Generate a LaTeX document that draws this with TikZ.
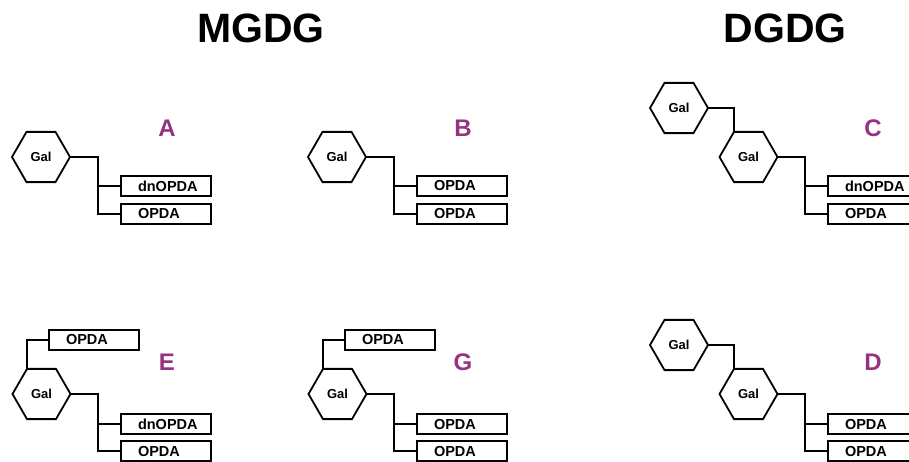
\documentclass[tikz,border=0pt]{standalone}
\usepackage{fontspec}
\setmainfont{Liberation Sans}
\usetikzlibrary{shapes.geometric}
\definecolor{lbl}{RGB}{150,50,130}
\begin{document}
\begin{tikzpicture}[x=1pt,y=-1pt,
  hexa/.style={regular polygon, regular polygon sides=6, draw, line width=1.8pt,
    minimum size=58pt, inner sep=0pt, outer sep=0pt, font=\bfseries\fontsize{13}{15}\selectfont},
  chainbox/.style={draw, line width=1.8pt, minimum width=90pt, minimum height=20pt,
    inner xsep=17pt, inner ysep=0pt, text width=56pt, align=left, outer sep=0pt,
    font=\bfseries\fontsize{14.5}{16}\selectfont},
  link/.style={line width=1.8pt},
  panel/.style={text=lbl, font=\bfseries\fontsize{24}{28}\selectfont},
  title/.style={font=\bfseries\fontsize{41}{48}\selectfont}]
\clip (0,0) rectangle (909,461);
\node[title] (t1) at (261,28) {MGDG};
\node[title] (t2) at (785,28) {DGDG};

% Panel A
\node[hexa] (ga) at (41,157) {Gal};
\node[chainbox] (a1) at (166,186) {dnOPDA};
\node[chainbox] (a2) at (166,214) {OPDA};
\coordinate (ta) at (98,157);
\draw[link] (ga.0) -- (ta) |- (a2.west);
\draw[link] (ta |- a1.west) -- (a1.west);
\node[panel] (la) at (167,128) {A};

% Panel B
\node[hexa] (gb) at (337,157) {Gal};
\node[chainbox] (b1) at (462,186) {OPDA};
\node[chainbox] (b2) at (462,214) {OPDA};
\coordinate (tb) at (394,157);
\draw[link] (gb.0) -- (tb) |- (b2.west);
\draw[link] (tb |- b1.west) -- (b1.west);
\node[panel] (lb) at (463,128) {B};

% Panel C
\node[hexa] (gc1) at (679,108) {Gal};
\node[hexa] (gc2) at (748.5,157) {Gal};
\node[chainbox] (c1) at (873,186) {dnOPDA};
\node[chainbox] (c2) at (873,214) {OPDA};
\coordinate (tc) at (805,157);
\draw[link] (gc1.0) -| (gc2.120);
\draw[link] (gc2.0) -- (tc) |- (c2.west);
\draw[link] (tc |- c1.west) -- (c1.west);
\node[panel] (lc) at (873,128) {C};

% Panel E
\node[hexa] (ge) at (41.5,394) {Gal};
\node[chainbox] (e0) at (94,340) {OPDA};
\node[chainbox] (e1) at (166,424) {dnOPDA};
\node[chainbox] (e2) at (166,451) {OPDA};
\coordinate (te) at (98,394);
\draw[link] (e0.west) -| (ge.120);
\draw[link] (ge.0) -- (te) |- (e2.west);
\draw[link] (te |- e1.west) -- (e1.west);
\node[panel] (le) at (167,362) {E};

% Panel G
\node[hexa] (gg) at (337.5,394) {Gal};
\node[chainbox] (g0) at (390,340) {OPDA};
\node[chainbox] (g1) at (462,424) {OPDA};
\node[chainbox] (g2) at (462,451) {OPDA};
\coordinate (tg) at (394,394);
\draw[link] (g0.west) -| (gg.120);
\draw[link] (gg.0) -- (tg) |- (g2.west);
\draw[link] (tg |- g1.west) -- (g1.west);
\node[panel] (lg) at (463,362) {G};

% Panel D
\node[hexa] (gd1) at (679,345) {Gal};
\node[hexa] (gd2) at (748.5,394) {Gal};
\node[chainbox] (d1) at (873,424) {OPDA};
\node[chainbox] (d2) at (873,451) {OPDA};
\coordinate (td) at (805,394);
\draw[link] (gd1.0) -| (gd2.120);
\draw[link] (gd2.0) -- (td) |- (d2.west);
\draw[link] (td |- d1.west) -- (d1.west);
\node[panel] (ld) at (873,362) {D};
\end{tikzpicture}
\end{document}
